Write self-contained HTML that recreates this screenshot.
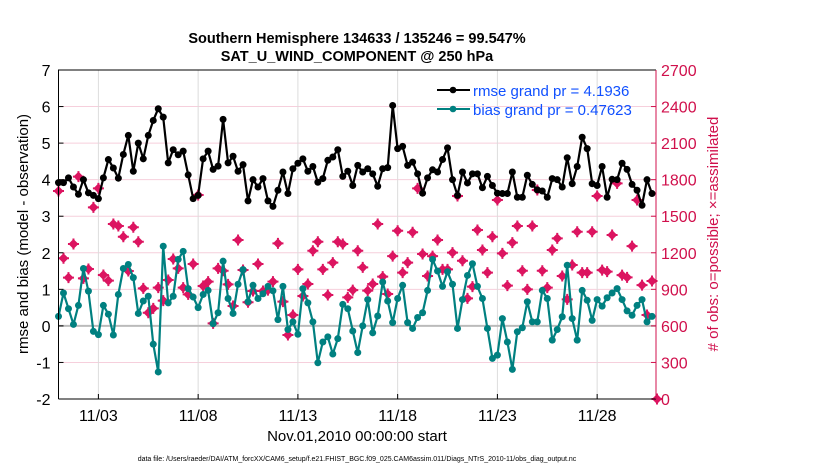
<!DOCTYPE html>
<html><head><meta charset="utf-8"><style>
body{margin:0;background:#fff;}
svg{display:block;font-family:"Liberation Sans",sans-serif;}
</style></head><body>
<svg id="chart" width="830" height="470">
<g id="grid"></g>
<g id="series"></g>
<g id="axes"></g>
<text x="357" y="43" text-anchor="middle" font-size="14.5" font-weight="bold">Southern Hemisphere 134633 / 135246 = 99.547%</text>
<text x="357" y="61" text-anchor="middle" font-size="14.5" font-weight="bold">SAT_U_WIND_COMPONENT @ 250 hPa</text>
<text transform="translate(28,234) rotate(-90)" text-anchor="middle" font-size="15">rmse and bias (model - observation)</text>
<text transform="translate(718,234) rotate(-90)" text-anchor="middle" font-size="15" fill="#d0104c"># of obs: o=possible; ×=assimilated</text>
<text x="357" y="441" text-anchor="middle" font-size="15">Nov.01,2010 00:00:00 start</text>
<text x="357" y="461" text-anchor="middle" font-size="7">data file: /Users/raeder/DAI/ATM_forcXX/CAM6_setup/f.e21.FHIST_BGC.f09_025.CAM6assim.011/Diags_NTrS_2010-11/obs_diag_output.nc</text>
<g>
<line x1="437" y1="90" x2="470" y2="90" stroke="#000" stroke-width="2"/>
<circle cx="453" cy="90" r="3.3" fill="#000"/>
<text x="473" y="96" font-size="15" fill="#1050ff">rmse grand pr = 4.1936</text>
<line x1="437" y1="109" x2="470" y2="109" stroke="#008080" stroke-width="2"/>
<circle cx="453" cy="109" r="3.3" fill="#008080"/>
<text x="473" y="115" font-size="15" fill="#1050ff">bias grand pr = 0.47623</text>
</g>
</svg>
<script>
const rmse=[3.92,3.92,4.05,3.8,3.6,4.0,3.64,3.57,3.48,4.05,4.55,4.32,4.04,4.69,5.21,4.23,5.0,4.57,5.21,5.62,5.94,5.71,4.46,4.82,4.68,4.78,4.13,3.48,3.57,4.57,4.78,4.28,4.37,5.65,4.46,4.64,4.23,4.41,3.42,4.0,3.8,4.03,3.42,3.27,3.71,4.21,3.62,4.3,4.45,4.57,4.23,4.36,3.93,4.03,4.53,4.62,4.82,4.09,4.23,3.84,4.39,4.21,4.3,4.16,3.82,4.3,4.33,6.03,4.85,4.91,4.39,4.48,4.16,3.63,4.05,4.27,4.21,4.55,4.87,4.0,3.57,4.21,3.91,4.16,4.16,3.78,4.09,3.84,3.63,3.62,3.62,4.21,3.52,3.52,4.12,3.87,3.72,3.69,3.52,4.03,4.0,3.8,4.6,3.89,4.36,5.16,4.85,3.89,3.84,4.36,3.52,4.01,4.0,4.45,4.28,3.87,3.71,3.3,4.0,3.62];
const bias=[0.26,0.9,0.47,0.04,0.56,1.57,0.95,-0.15,-0.24,0.56,0.32,-0.25,0.86,1.57,1.68,1.32,0.34,0.68,0.81,-0.5,-1.26,2.18,0.63,0.81,1.82,2.04,1.02,0.79,0.5,0.86,0.97,0.06,0.36,1.77,0.75,0.34,1.14,1.54,0.66,1.11,0.75,0.88,1.08,0.96,0.17,1.08,-0.1,0.11,-0.23,1.02,0.63,0.11,-1.01,-0.44,-0.3,-0.77,-0.35,0.59,0.47,-0.14,-0.73,0.0,0.72,-0.19,0.27,1.2,0.68,0.09,0.75,1.11,0.09,-0.07,0.23,0.36,0.97,1.82,1.5,1.08,1.48,1.14,-0.07,0.72,1.38,1.7,1.08,0.75,-0.07,-0.89,-0.8,0.2,-0.44,-1.19,-0.16,-0.05,0.66,0.11,0.11,0.97,0.75,-0.39,-0.1,0.25,1.66,0.2,-0.39,0.97,0.7,0.15,0.72,0.54,0.77,0.9,1.02,0.72,0.41,0.29,0.56,0.72,0.11,0.26];
const nobs=[1707,1155,996,1272,1825,990,1067,1573,1729,1018,971,1436,1420,1332,1050,1409,1291,908,708,744,914,807,977,1149,1072,914,859,1108,1674,927,963,621,1072,1053,941,763,1305,1059,794,886,1108,886,894,963,1277,799,525,689,1064,845,944,1217,1291,1064,853,1119,1291,1272,834,894,1217,1080,889,944,1436,1004,862,1173,1381,1037,1119,1368,1729,1190,1009,1173,1305,1064,1064,1201,1666,1135,826,922,1387,1223,1037,1332,1633,1195,930,1283,1420,1053,900,1420,1715,1053,914,1223,1318,1009,818,1100,1373,1037,1037,1373,1666,1058,1045,1346,1770,1017,998,1255,1633,935,689,968,0];
const leftTicks=[7,6,5,4,3,2,1,0,-1,-2];
const rightTicks=[2700,2400,2100,1800,1500,1200,900,600,300,0];
const xTickDays=[2,7,12,17,22,27];
const xTickLabels=["11/03","11/08","11/13","11/18","11/23","11/28"];
const stepDays=0.25;

const X0=58.5,X1=656,Y0=70,Y1=399;
const xs=d=>X0+(d/29.95)*(X1-X0);
const yl=v=>Y1-(v+2)/9*(Y1-Y0);
const yr=v=>Y1-v/2700*(Y1-Y0);
const NS='http://www.w3.org/2000/svg';
function mk(tag,attrs,parent){const e=document.createElementNS(NS,tag);for(const k in attrs)e.setAttribute(k,attrs[k]);parent.appendChild(e);return e;}
const grid=document.getElementById('grid'),ser=document.getElementById('series'),ax=document.getElementById('axes');

leftTicks.forEach(v=>{
  if(v!==7&&v!==-2){const g=mk('line',{x1:X0,x2:X1,y1:yl(v),y2:yl(v),stroke:'#f6cfdc','stroke-width':1},grid);
  
  }
  const t=mk('line',{x1:X0,x2:X0+5,y1:yl(v),y2:yl(v),stroke:'#000'},ax);
  
  
  const l=mk('text',{x:X0-8,y:yl(v)+6,'text-anchor':'end','font-size':16},ax);l.textContent=v;
  
  
});
rightTicks.forEach(v=>{
  const t=mk('line',{x1:X1-5,x2:X1,y1:yr(v),y2:yr(v),stroke:'#d0104c'},ax);
  
  
  const l=mk('text',{x:X1+5,y:yr(v)+6,'font-size':16,fill:'#d0104c'},ax);l.textContent=v;
  
  
});
xTickDays.forEach((d,i)=>{
  const g=mk('line',{x1:xs(d),x2:xs(d),y1:Y0,y2:Y1,stroke:'#dcdcdc'},grid);
  
  
  const t=mk('line',{x1:xs(d),x2:xs(d),y1:Y1-5,y2:Y1,stroke:'#000'},ax);
  
  
  const l=mk('text',{x:xs(d),y:Y1+22,'text-anchor':'middle','font-size':16},ax);l.textContent=xTickLabels[i];
  
  
});
const zl=mk('line',{x1:X0,x2:X1,y1:yl(0),y2:yl(0),stroke:'#bbb','stroke-width':2},grid);



nobs.forEach((v,i)=>{
  const x=xs(i*stepDays),y=yr(v),r=5;
  const p=mk('path',{d:`M${x-r},${y}L${x},${y-r}L${x+r},${y}L${x},${y+r}Z M${x-r-0.5},${y-1}h${2*r+1}v2h${-2*r-1}Z M${x-1},${y-r-0.5}h2v${2*r+1}h-2Z`,fill:'#dc1460'},ser);
  
  
});
function line(arr,color,name){
  const pts=arr.map((v,i)=>xs(i*stepDays).toFixed(1)+','+yl(v).toFixed(1)).join(' ');
  const pl=mk('polyline',{points:pts,fill:'none',stroke:color,'stroke-width':2.2,'stroke-linejoin':'round'},ser);
  
  
  arr.forEach((v,i)=>{
    const c=mk('circle',{cx:xs(i*stepDays),cy:yl(v),r:3.5,fill:color},ser);
    
    
  });
}
line(bias,'#008080','bias');
line(rmse,'#000','rmse');

const fr=mk('path',{d:`M${X0},${Y1}L${X0},${Y0}L${X1},${Y0}`,fill:'none',stroke:'#000','stroke-width':1},ax);


const bx=mk('line',{x1:X0,x2:X1,y1:Y1,y2:Y1,stroke:'#000'},ax);


const ra=mk('line',{x1:X1,x2:X1,y1:Y0,y2:Y1,stroke:'#d0104c'},ax);


</script>
</body></html>
